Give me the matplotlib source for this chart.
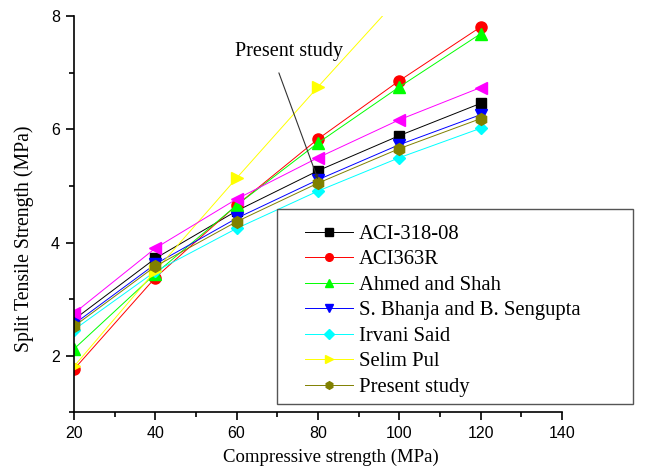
import matplotlib
matplotlib.use('Agg')
import matplotlib.pyplot as plt
from matplotlib.patches import Rectangle
from matplotlib.ticker import MultipleLocator

# Compressive strength (MPa)
fc = [20, 40, 60, 80, 100, 120]

# Split tensile strength (MPa) per model
aci318 = [2.64, 3.72, 4.56, 5.27, 5.89, 6.46]
aci363 = [1.76, 3.38, 4.66, 5.83, 6.86, 7.81]
ahmed_shah = [2.12, 3.45, 4.66, 5.76, 6.75, 7.69]
bhanja = [2.56, 3.62, 4.43, 5.11, 5.73, 6.26]
irvani = [2.46, 3.49, 4.25, 4.91, 5.50, 6.02]
selim_pul = [1.81, 3.50, 5.14, 6.75, 8.33, 9.90]
present = [2.52, 3.58, 4.37, 5.05, 5.66, 6.19]
unlabelled = [2.75, 3.90, 4.77, 5.50, 6.17, 6.74]

names = ['ACI-318-08', 'ACI363R', 'Ahmed and Shah', 'S. Bhanja and B. Sengupta',
         'Irvani Said', 'Selim Pul', 'Present study']


def main():
    fig = plt.figure(figsize=(6.48, 4.71), dpi=100)
    ax = fig.add_axes([0.1142, 0.1246, 0.7528, 0.8408])

    series = [
        (aci318, 'black', 's', 7),
        (aci363, 'red', 'o', 8),
        (ahmed_shah, '#00ff00', '^', 8),
        (bhanja, 'blue', 'v', 8),
        (irvani, 'cyan', 'D', 6.5),
        (selim_pul, 'yellow', '>', 8),
        (present, '#808000', 'h', 8.5),
    ]
    handles = []
    for (vals, c, m, ms), name in zip(series, names):
        h, = ax.plot(fc, vals, color=c, lw=0.7, marker=m, ms=ms, mec=c, label=name)
        handles.append(h)
    # magenta series has no legend entry in the original
    ax.plot(fc, unlabelled, color='magenta', lw=0.7, marker='<', ms=8)

    ax.set_xlim(20, 140)
    ax.set_ylim(1, 8)
    ax.xaxis.set_major_locator(MultipleLocator(20))
    ax.xaxis.set_minor_locator(MultipleLocator(10))
    ax.yaxis.set_major_locator(MultipleLocator(2))
    ax.yaxis.set_minor_locator(MultipleLocator(1))
    ax.tick_params(which='major', direction='out', length=6, width=1.2, labelsize=11.5, pad=4)
    ax.tick_params(which='minor', direction='out', length=3.5, width=1.2)
    for lab in ax.get_xticklabels() + ax.get_yticklabels():
        lab.set_family('Liberation Sans')
    ax.spines['top'].set_visible(False)
    ax.spines['right'].set_visible(False)
    ax.spines['left'].set_linewidth(1.2)
    ax.spines['bottom'].set_linewidth(1.2)

    ax.set_xlabel('Compressive strength (MPa)', family='Liberation Serif', fontsize=13.5)
    ax.set_ylabel('Split Tensile Strength (MPa)', family='Liberation Serif', fontsize=14.2)
    ax.xaxis.set_label_coords(0.5256, -0.092)
    ax.yaxis.set_label_coords(-0.082, 0.4376)

    ax.text(72.8, 7.37, 'Present study', family='Liberation Serif', fontsize=14.5,
            ha='center', va='center')
    ax.annotate('', xy=(80, 5.12), xytext=(70.4, 7.0),
                arrowprops=dict(arrowstyle='-|>', color='#333333', lw=0.8,
                                mutation_scale=6, shrinkA=0, shrinkB=0))

    # legend box drawn by hand so its padding matches the original
    ax.add_patch(Rectangle((277.3 / 648, 1 - 404 / 471), 356 / 648, 194.7 / 471,
                           transform=fig.transFigure, clip_on=False, facecolor='white',
                           edgecolor='#555555', lw=1.0, zorder=5))
    leg = ax.legend(handles=[plt.Line2D([], [], color=h.get_color(), lw=0.7, marker=h.get_marker(),
                                        ms=5.5) for h in handles],
                    labels=names, loc='upper left',
                    bbox_to_anchor=(305 / 648, 1 - 224.5 / 471), bbox_transform=fig.transFigure,
                    borderaxespad=0, borderpad=0, frameon=False,
                    prop={'family': 'Liberation Serif', 'size': 14.9},
                    handlelength=2.3, handletextpad=0.3, labelspacing=0.29)
    leg.set_zorder(6)

    fig.savefig('out.png', dpi=100)
    plt.close(fig)


if __name__ == '__main__':
    main()
